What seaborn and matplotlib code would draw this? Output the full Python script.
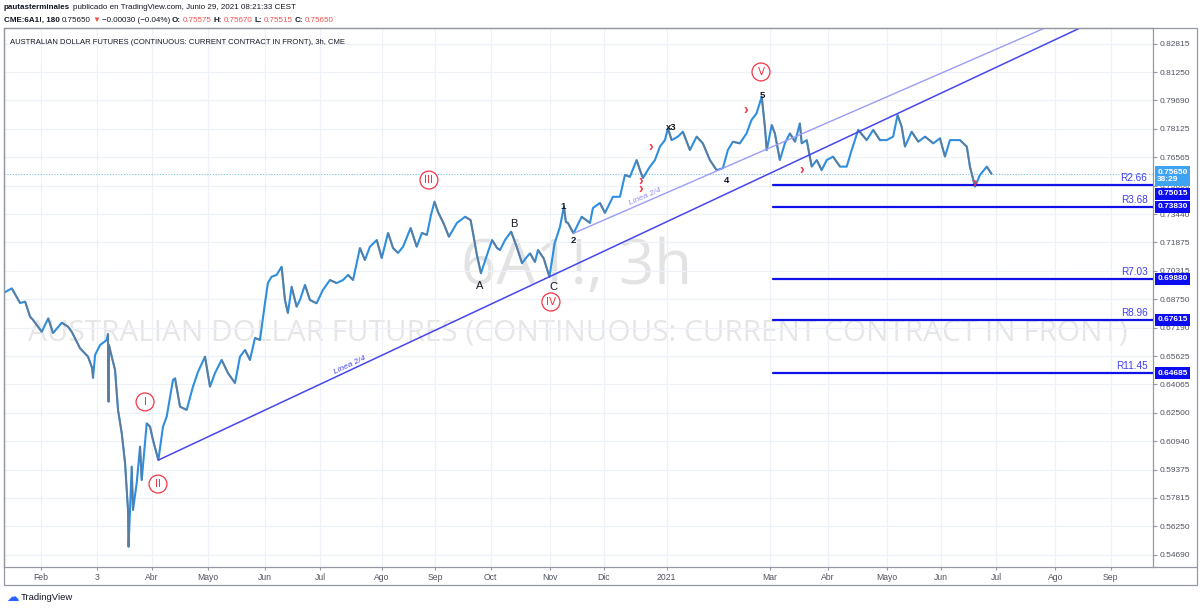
import numpy as np
import pandas as pd
import seaborn as sns
import matplotlib.pyplot as plt
import matplotlib.dates as mdates
from matplotlib.collections import LineCollection
from matplotlib.patches import Rectangle
from matplotlib.lines import Line2D

start = pd.Timestamp("2020-02-01")

# days after 1 Feb 2020 and 6A1! price
day_offset = [
    -20.0, -15.8, -11.3, -8.6, -5.9, -4.3, 0.4, 3.9, 6.5, 11.2, 14.6, 16.6, 21.1, 25.4,
    27.6, 28.1, 29.2, 31.9, 35.5, 36.2, 36.5, 36.7, 38.2, 40.0, 41.6, 43.6, 45.4, 47.0,
    47.3, 49.0, 49.7, 51.7, 53.5, 54.4, 57.1, 58.9, 60.5, 63.4,
    65.9, 67.9, 71.3, 72.4, 75.1, 78.7, 82.1, 84.8, 88.6, 91.3, 94.0, 97.6, 101.0, 104.8,
    107.5, 110.2, 112.9, 115.6, 118.3, 121.0, 122.6, 124.6, 127.3, 130.0,
    131.8, 133.4, 135.4, 138.1, 139.9, 142.6, 145.3, 148.9, 152.3, 156.1, 159.7, 163.2,
    165.9, 168.6, 172.3, 175.0, 177.7, 181.4, 184.1, 187.5, 190.2, 192.9, 195.6, 199.7,
    203.0, 205.8, 208.5, 210.7, 212.6,
    214.5, 217.5, 220.4, 224.7, 229.1, 232.1, 233.4, 235.5, 237.7, 240.4, 243.7, 246.4,
    248.0, 250.7, 254.0, 257.0, 259.9, 262.0, 264.2, 266.9, 268.5, 271.6, 274.7,
    277.5, 280.4, 282.5, 283.6, 284.7, 287.7, 292.1, 296.6, 298.2, 302.0, 304.7, 309.0,
    312.8, 315.5, 318.2, 321.8, 323.6, 325.2, 329.0, 331.7, 334.4, 337.1, 338.7, 340.7,
    344.1, 346.8, 350.6, 354.2, 357.6, 361.4, 365.0, 368.4,
    371.1, 373.8, 377.6, 381.2, 383.9, 386.6, 389.4, 391.1, 392.1, 394.8, 396.5, 399.2,
    401.9, 404.6, 407.4, 410.0, 411.0, 413.7, 416.4, 419.1, 421.8, 424.5, 427.9, 431.7,
    435.3, 438.0,
    441.5, 446.1, 449.6, 453.3, 456.9, 460.4, 462.8, 465.0, 466.8, 470.4, 474.0, 477.6,
    482.1, 485.7, 488.4, 491.1, 496.5, 500.2, 501.9, 504.6, 507.3, 511.0, 513.6,
]
price = [
    0.6911, 0.6935, 0.6854, 0.6862, 0.6779, 0.6761, 0.6696, 0.6770, 0.6689, 0.6746, 0.6724, 0.6696, 0.6605, 0.6559,
    0.6497, 0.6442, 0.6568, 0.6623, 0.6651, 0.6684, 0.6311, 0.6623, 0.6559, 0.6486, 0.6266, 0.6139, 0.5974, 0.5715,
    0.5513, 0.5954, 0.5715, 0.5864, 0.6064, 0.5880, 0.6192, 0.6174, 0.6100, 0.5990,
    0.6174, 0.6229, 0.6431, 0.6440, 0.6284, 0.6266, 0.6394, 0.6475, 0.6559, 0.6394, 0.6469, 0.6541, 0.6469, 0.6414,
    0.6559, 0.6596, 0.6541, 0.6662, 0.6651, 0.6854, 0.6965, 0.6999, 0.7009, 0.7054,
    0.6871, 0.6799, 0.6944, 0.6834, 0.6871, 0.6954, 0.6871, 0.6853, 0.6926, 0.6981, 0.6964, 0.6981,
    0.7009, 0.6981, 0.7157, 0.7091, 0.7164, 0.7201, 0.7102, 0.7240, 0.7157, 0.7130, 0.7164, 0.7267,
    0.7164, 0.7240, 0.7229, 0.7339, 0.7412,
    0.7355, 0.7293, 0.7219, 0.7295, 0.7329, 0.7311, 0.7240, 0.7119, 0.7018, 0.7102, 0.7201, 0.7157,
    0.7146, 0.7201, 0.7247, 0.7164, 0.7073, 0.7102, 0.7128, 0.7080, 0.7146, 0.7100, 0.6999,
    0.7183, 0.7274, 0.7384, 0.7300, 0.7295, 0.7238, 0.7329, 0.7295, 0.7377, 0.7405, 0.7350, 0.7439,
    0.7439, 0.7559, 0.7549, 0.7641, 0.7586, 0.7542, 0.7605, 0.7641, 0.7715, 0.7751, 0.7816, 0.7751,
    0.7770, 0.7797, 0.7696, 0.7770, 0.7733, 0.7641, 0.7586, 0.7596,
    0.7696, 0.7742, 0.7733, 0.7788, 0.7862, 0.7898, 0.7990, 0.7825, 0.7696, 0.7834, 0.7788, 0.7641,
    0.7733, 0.7788, 0.7742, 0.7843, 0.7733, 0.7751, 0.7605, 0.7641, 0.7586, 0.7641, 0.7660, 0.7605,
    0.7605, 0.7696,
    0.7807, 0.7751, 0.7807, 0.7751, 0.7751, 0.7770, 0.7889, 0.7825, 0.7715, 0.7797, 0.7742, 0.7770,
    0.7733, 0.7761, 0.7660, 0.7751, 0.7751, 0.7715, 0.7605, 0.7495, 0.7559, 0.7605, 0.7565,
]
last_price = 0.75650

# horizontal targets drawn from early March 2021
levels = [0.75015, 0.73830, 0.69880, 0.67615, 0.64685]
level_names = ["R2.66", "R3.68", "R7.03", "R8.96", "R11.45"]
level_from = 395.5

# elliott counts
wave_labels = ["I", "II", "III", "IV", "V"]
wave_day = [56.2, 63.2, 209.6, 275.5, 389.0]
wave_price = [0.6310, 0.5858, 0.7531, 0.6860, 0.8126]
sub_labels = ["A", "B", "C", "1", "2", "x3", "4", "5"]
sub_day = [237.2, 255.5, 277.1, 282.0, 287.4, 340.4, 370.1, 389.5]
sub_price = [0.6948, 0.7289, 0.6943, 0.7383, 0.7196, 0.7823, 0.7526, 0.7999]
mark_day = [329.6, 380.9, 411.1, 324.1, 504.6]
mark_price = [0.7713, 0.7917, 0.7586, 0.7504, 0.7515]

# trend lines "Linea 2/4": two anchor points each
main_line_day = [63.4, 274.7]
main_line_price = [0.5990, 0.6999]
minor_line_day = [287.7, 368.4]
minor_line_price = [0.7238, 0.7596]

y_ticks = [0.82815, 0.81250, 0.79690, 0.78125, 0.76565, 0.75000, 0.73440, 0.71875, 0.70315,
           0.68750, 0.67190, 0.65625, 0.64065, 0.62500, 0.60940, 0.59375, 0.57815, 0.56250, 0.54690]
x_tick_dates = ["2020-02-01", "2020-03-02", "2020-04-01", "2020-05-01", "2020-06-01", "2020-07-01",
                "2020-08-03", "2020-09-01", "2020-10-01", "2020-11-02", "2020-12-01", "2021-01-04",
                "2021-03-01", "2021-04-01", "2021-05-03", "2021-06-01", "2021-07-01", "2021-08-02",
                "2021-09-01"]
x_tick_labels = ["Feb", "3", "Abr", "Mayo", "Jun", "Jul", "Ago", "Sep", "Oct", "Nov", "Dic", "2021",
                 "Mar", "Abr", "Mayo", "Jun", "Jul", "Ago", "Sep"]


def day(d):
    return start + pd.to_timedelta(np.asarray(d, dtype=float), unit="D")


sns.set_theme(style="white")
plt.rcParams["font.family"] = ["Liberation Sans", "DejaVu Sans"]

df = pd.DataFrame({"date": day(day_offset), "price": price})

fig = plt.figure(figsize=(12, 6.1), dpi=100)
ax = fig.add_axes([4 / 1200, 43 / 610, 1149 / 1200, 539 / 610])
renderer = fig.canvas.get_renderer()

sns.lineplot(data=df, x="date", y="price", ax=ax, color="#2e8fe0", linewidth=1.5, zorder=3)

pts = np.column_stack([mdates.date2num(df["date"]), df["price"].to_numpy()])
segs = np.stack([pts[:-1], pts[1:]], axis=1)
down = np.diff(df["price"].to_numpy()) < 0
ax.add_collection(LineCollection(segs[down], colors="#6f7480", linewidths=1.3, alpha=0.7, zorder=3))

ax.set_xlim(day(-20.0), day(600.8))
ax.set_ylim(0.54015, 0.83679)
ax.set_xlabel("")
ax.set_ylabel("")

# grid and axes
ax.set_yticks(y_ticks)
ax.set_yticklabels([f"{v:.5f}" for v in y_ticks])
ax.set_xticks(pd.to_datetime(x_tick_dates))
ax.set_xticklabels(x_tick_labels)
ax.yaxis.tick_right()
ax.grid(True, color="#eef1f7", linewidth=0.9)
ax.set_axisbelow(True)
ax.tick_params(axis="y", right=True, length=3, width=0.8, color="#9598a1",
               labelsize=6.0, labelcolor="#50535e", pad=2)
ax.tick_params(axis="x", bottom=True, length=2.5, width=0.8, color="#9598a1",
               labelsize=6.2, labelcolor="#50535e", pad=2)
for s in ax.spines.values():
    s.set_color("#9598a1")
    s.set_linewidth(0.9)

# outer frame around price and time scales
fig.add_artist(Rectangle((4 / 1200, 1 - 585 / 610), 1193 / 1200, 557 / 610, transform=fig.transFigure,
                         fill=False, ec="#9598a1", lw=0.9))
fig.add_artist(Line2D([1153 / 1200, 1197 / 1200], [43 / 610, 43 / 610], transform=fig.transFigure,
                      color="#9598a1", lw=0.9))

# watermark, sized to the width it takes in the screenshot
wm1 = ax.text(0.4987, 0.555, "6A1!, 3h", transform=ax.transAxes, ha="center", va="center",
              fontsize=46, color="#e3e3e3", zorder=0, family=["Open Sans", "DejaVu Sans"])
wm1.set_fontsize(46 * 231 / wm1.get_window_extent(renderer).width)
wm2 = ax.text(0.4996, 0.434, "AUSTRALIAN DOLLAR FUTURES (CONTINUOUS: CURRENT CONTRACT IN FRONT)",
              transform=ax.transAxes, ha="center", va="center", fontsize=27, color="#e6e6e6",
              zorder=0, family=["Open Sans", "DejaVu Sans"])
wm2.set_fontsize(27 * 1100 / wm2.get_window_extent(renderer).width)

# last price dotted line
ax.axhline(last_price, color="#7cc0f2", lw=0.8, ls=(0, (1, 1.5)), zorder=2)

# trend lines
x_end = mdates.date2num(day(600.8))
for dd, pp, col, lw in [(main_line_day, main_line_price, "#4646f0", 1.1),
                        (minor_line_day, minor_line_price, "#9c9cf6", 1.0)]:
    x0, x1 = mdates.date2num(day(dd))
    slope = (pp[1] - pp[0]) / (x1 - x0)
    ax.plot([x0, x_end], [pp[0], pp[0] + slope * (x_end - x0)], color=col, lw=lw, zorder=4)


def screen_angle(dd, pp):
    a = ax.transData.transform(np.column_stack([mdates.date2num(day(dd)), pp]))
    return np.degrees(np.arctan2(a[1, 1] - a[0, 1], a[1, 0] - a[0, 0]))


ax.text(day(166.9), 0.6513, "Linea 2/4", rotation=screen_angle(main_line_day, main_line_price),
        rotation_mode="anchor", ha="center", va="center", fontsize=6, color="#4646f0",
        style="italic", zorder=5)
ax.text(day(326.3), 0.7438, "Linea 2/4", rotation=screen_angle(minor_line_day, minor_line_price),
        rotation_mode="anchor", ha="center", va="center", fontsize=6, color="#8f8ff5",
        style="italic", zorder=5)

# horizontal targets
for lv, name in zip(levels, level_names):
    ax.plot([day(level_from), day(600.8)], [lv, lv], color="#1010e8", lw=1.6, zorder=4)
    ax.annotate(name, xy=(1, lv), xycoords=("axes fraction", "data"), xytext=(-4, 1.5),
                textcoords="offset points", ha="right", va="bottom", fontsize=7.2,
                color="#3f3ff5", zorder=5)

# price scale boxes
for lv in levels:
    dy = -5.9 if lv == 0.75015 else 0
    ax.annotate(f"{lv:.5f}", xy=(1, lv), xycoords=("axes fraction", "data"), xytext=(3, dy),
                textcoords="offset points", ha="left", va="center", fontsize=6.0, color="white",
                fontweight="bold",
                bbox=dict(boxstyle="square,pad=0.3", fc="#0c0cf0", ec="none"),
                annotation_clip=False, zorder=6)
ax.annotate(f"{last_price:.5f}\n38:29", xy=(1, last_price), xycoords=("axes fraction", "data"),
            xytext=(3, 3.6), textcoords="offset points", ha="left", va="top", fontsize=6.0,
            color="white", linespacing=1.1, fontweight="bold",
            bbox=dict(boxstyle="square,pad=0.3", fc="#3fa3f3", ec="none"),
            annotation_clip=False, zorder=6)

# wave labels
for lab, d, p in zip(wave_labels, wave_day, wave_price):
    ax.text(day(d), p, lab, ha="center", va="center", fontsize=7.5, color="#f23645",
            family=["DejaVu Sans"], zorder=6,
            bbox=dict(boxstyle="circle,pad=0.38", fc="white", ec="#f23645", lw=0.9))
for lab, d, p in zip(sub_labels, sub_day, sub_price):
    big = lab in ("A", "B", "C")
    ax.text(day(d), p, lab, ha="center", va="center", fontsize=8 if big else 6.8,
            color="#131722", fontweight="normal" if big else "bold", zorder=6)
for i, (d, p) in enumerate(zip(mark_day, mark_price)):
    s = "›\n›" if i == 3 else "›"
    ax.text(day(d), p, s, ha="center", va="center", fontsize=10, color="#f23645",
            fontweight="bold", linespacing=0.5, zorder=6)


# header lines, pieces set one after the other
def text_run(x, y, pieces, size=5.8, gap=2.5):
    for s, w, c in pieces:
        t = fig.text(x / 1200, 1 - y / 610, s, ha="left", va="center", fontsize=size,
                     color=c, fontweight=w)
        x += t.get_window_extent(renderer).width + gap


ink = "#131722"
red = "#ef5350"
text_run(4, 7.5, [("pautasterminales", "bold", ink),
                  ("publicado en TradingView.com, Junio 29, 2021 08:21:33 CEST", "normal", ink)])
text_run(4, 20, [("CME:6A1!, 180", "bold", ink), ("0.75650", "normal", ink), ("▼", "normal", red),
                 ("−0.00030 (−0.04%)", "normal", ink), ("O:", "bold", ink), ("0.75575", "normal", red),
                 ("H:", "bold", ink), ("0.75670", "normal", red), ("L:", "bold", ink),
                 ("0.75515", "normal", red), ("C:", "bold", ink), ("0.75650", "normal", red)], gap=1.8)
fig.text(10 / 1200, 1 - 42 / 610, "AUSTRALIAN DOLLAR FUTURES (CONTINUOUS: CURRENT CONTRACT IN FRONT), 3h, CME",
         ha="left", va="center", fontsize=5.5, color="#131722")

fig.text(6 / 1200, 1 - 597 / 610, "☁", ha="left", va="center", fontsize=9, color="#2962ff",
         family=["DejaVu Sans"])
fig.text(21 / 1200, 1 - 597 / 610, "TradingView", ha="left", va="center", fontsize=6.8, color="#131722")

fig.savefig("out.png", dpi=100, facecolor="white")
